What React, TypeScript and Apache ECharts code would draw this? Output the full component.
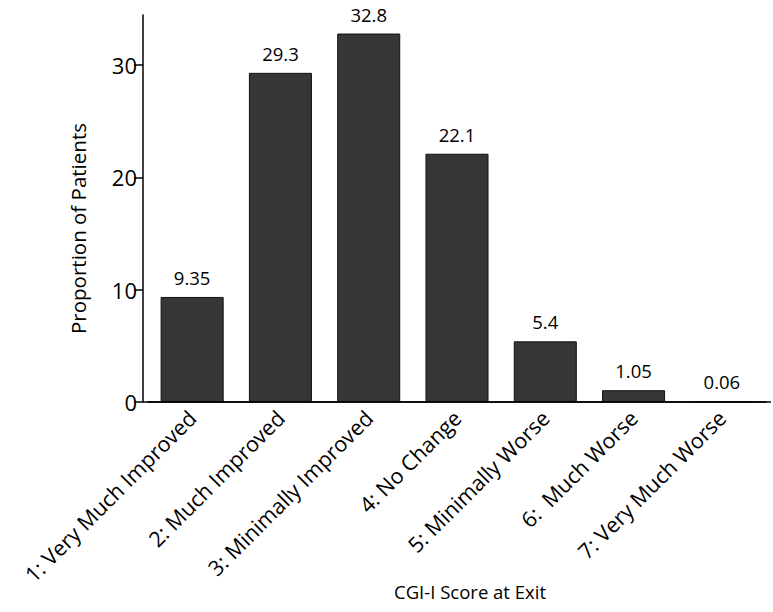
import React, { useEffect, useRef } from "react";
import * as echarts from "echarts";

const categories = [
  "1: Very Much Improved",
  "2: Much Improved",
  "3: Minimally Improved",
  "4: No Change",
  "5: Minimally Worse",
  "6:  Much Worse",
  "7: Very Much Worse",
];
const values = [9.35, 29.3, 32.8, 22.1, 5.4, 1.05, 0.06];
const valueLabels = ["9.35", "29.3", "32.8", "22.1", "5.4", "1.05", "0.06"];
const yTicks = [0, 10, 20, 30];
const xTitle = "CGI-I Score at Exit";
const yTitle = "Proportion of Patients";

const FONT = "Open Sans";

export default function App() {
  const ref = useRef<HTMLDivElement>(null);
  useEffect(() => {
    if (!ref.current) return;
    const chart = echarts.init(ref.current, null, { renderer: "svg" });
    chart.setOption({
      animation: false,
      backgroundColor: "#ffffff",
      grid: {
        left: 148,
        right: 7,
        top: 15,
        bottom: 210,
        containLabel: false,
        outerBoundsMode: "none",
      },
      xAxis: {
        type: "category",
        data: categories,
        boundaryGap: true,
        axisLine: { show: true, lineStyle: { color: "#000", width: 1.5 } },
        axisTick: { show: false },
        axisLabel: {
          rotate: 45,
          interval: 0,
          margin: 12,
          color: "#000",
          fontFamily: FONT,
          fontSize: 21.5,
        },
        name: xTitle,
        nameLocation: "middle",
        nameGap: 180,
        nameMoveOverlap: false,
        nameTextStyle: {
          color: "#000",
          fontFamily: FONT,
          fontSize: 18.5,
          padding: [0, 0, 0, 26],
        },
      },
      yAxis: {
        type: "value",
        min: 0,
        max: 34.45,
        interval: 10,
        offset: 5,
        splitLine: { show: false },
        axisLine: { show: true, lineStyle: { color: "#000", width: 1.5 } },
        axisTick: {
          show: true,
          length: 9,
          customValues: yTicks,
          lineStyle: { color: "#000", width: 1.5 },
        },
        axisLabel: {
          customValues: yTicks,
          margin: 6,
          color: "#000",
          fontFamily: FONT,
          fontSize: 22,
          formatter: (v: number) => (yTicks.includes(v) ? String(v) : ""),
        },
        name: yTitle,
        nameLocation: "middle",
        nameGap: 55,
        nameRotate: 90,
        nameMoveOverlap: false,
        nameTextStyle: {
          color: "#000",
          fontFamily: FONT,
          fontSize: 20.5,
          padding: [0, 40, 0, 0],
        },
      },
      series: [
        {
          type: "bar",
          data: values,
          barCategoryGap: "28.6%",
          itemStyle: { color: "#363636", borderColor: "#111", borderWidth: 1 },
          label: {
            show: true,
            position: "top",
            distance: 10,
            color: "#000",
            fontFamily: FONT,
            fontSize: 18.5,
            formatter: (p: any) => valueLabels[p.dataIndex],
          },
        },
      ],
      graphic: [
        {
          type: "line",
          shape: { x1: 143, y1: 402, x2: 771, y2: 402 },
          style: { stroke: "#000", lineWidth: 1.5 },
          z: 10,
        },
      ],
    });
    return () => chart.dispose();
  }, []);
  return (
    <div
      ref={ref}
      style={{ position: "fixed", left: 0, top: 0, width: 773, height: 612 }}
    />
  );
}
